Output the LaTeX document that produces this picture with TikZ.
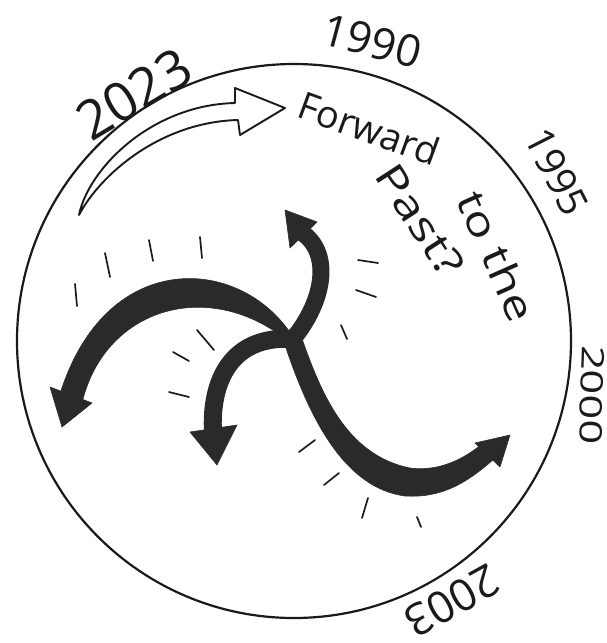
\documentclass[tikz,border=0pt]{standalone}
\usepackage{fontspec}
\setmainfont{Open Sans}
\usepackage{tikz}
\usetikzlibrary{arrows.meta}

\definecolor{pen}{HTML}{1A1A1A}
\definecolor{marker}{HTML}{2A2A2A}

\begin{document}
\begin{tikzpicture}[
  x=1pt,
  y=-1pt,
  rim/.style={draw=pen, line width=2.2pt},
  hollow/.style={draw=pen, fill=white, line width=1.9pt, line join=round},
  sweep/.style={draw=marker, line cap=butt, line join=round},
  blot/.style={fill=marker, draw=marker, line width=0.6pt, line join=round},
  flick/.style={draw=pen, line width=1.7pt, line cap=round},
  year/.style={text=pen, inner sep=0pt, font=\fontsize{#1pt}{#1pt}\selectfont},
  note/.style={text=pen, inner sep=0pt, font=\fontsize{#1pt}{#1pt}\selectfont}
]
  \useasboundingbox (0,0) rectangle (607,643);

  % the dial
  \coordinate (mid) at (294,341);
  \draw[rim] (mid) circle (277);

  % years round the rim
  \node[year=54, rotate=31] (y2023) at (134,94) {2023};
  \node[year=44, rotate=-15] (y1990) at (372,41) {1990};
  \node[year=40, rotate=-63] (y1995) at (557,172) {1995};
  \node[year=31, rotate=-92, xscale=1.4] (y2000) at (592,395) {2000};
  \node[year=44, rotate=-151] (y2003) at (452,601) {2003};

  % hollow arrow and its caption
  \coordinate (tail) at (79,215);
  \coordinate (tip) at (285,108);
  \draw[hollow] (tail) .. controls (88,170) and (150,105) .. (235,103)
    -- (235,88) -- (tip) -- (240,135) -- (238,120)
    .. controls (160,122) and (100,175) .. cycle;
  \node[note=38, rotate=-20, anchor=west] (fwd) at (300,103) {Forward};
  \node[note=40, rotate=-66, xscale=1.25] (tothe) at (497,256) {to the};
  \node[note=40, rotate=-57, xscale=1.3] (past) at (420,220) {Past?};

  % the three-way swirl
  \coordinate (hub) at (293,339);
  % big sweep to the left
  \path[blot] (289,331) .. controls (235,255) and (105,250) .. (60,394)
    -- (82,403) .. controls (105,305) and (215,275) .. (295,347) -- cycle;
  \path[blot] (50,387) -- (62,427) -- (92,403) -- cycle;
  % short one, up
  \draw[sweep, line width=17pt]
    (hub) .. controls (325,300) and (332,252) .. (301,232);
  \path[blot] (285,210) -- (317,222) -- (290,248) -- cycle;
  % short one, down
  \draw[sweep, line width=18pt]
    (hub) .. controls (232,335) and (210,380) .. (213,433);
  \path[blot] (190,432) -- (217,465) -- (237,425) -- cycle;
  % long one to the right
  \path[blot] (301,336) .. controls (320,390) and (345,455) .. (410,468)
    .. controls (440,472) and (465,458) .. (482,444)
    -- (495,458) .. controls (465,485) and (440,498) .. (405,496)
    .. controls (345,488) and (310,420) .. (285,345) -- cycle;
  \path[blot] (475,443) -- (510,435) -- (500,467) -- cycle;
  \fill[marker] (hub) circle (10);

  % motion flicks
  \foreach \xa/\ya/\xb/\yb in {105/253/110/277, 149/240/153/261,
      200/237/202/258, 75/284/77/306, 358/260/378/263, 356/290/376/297,
      341/325/347/339, 197/330/214/350, 173/352/189/361, 169/392/189/397,
      299/452/315/440, 324/485/339/473, 362/518/368/498, 417/517/421/527}
    \draw[flick] (\xa,\ya) -- (\xb,\yb);
\end{tikzpicture}
\end{document}
